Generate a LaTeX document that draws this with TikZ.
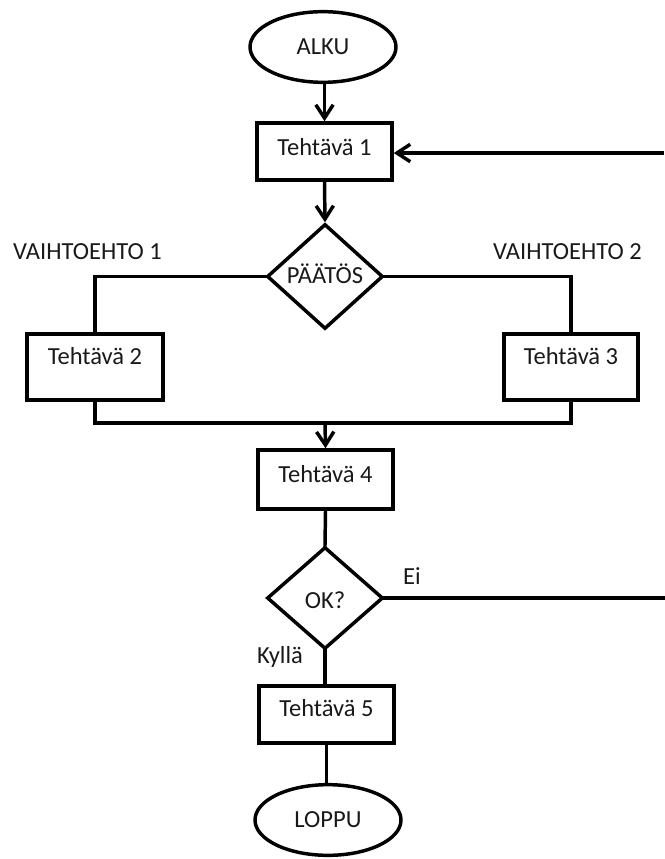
\documentclass[tikz,border=0pt]{standalone}
\usepackage{fontspec}
\setmainfont{Carlito}
\usetikzlibrary{shapes.geometric, arrows.meta}
\begin{document}
\begin{tikzpicture}[x=0.75pt, y=-0.75pt,
  txt/.style={font=\fontsize{18.4pt}{22pt}\selectfont, text=black!90, inner sep=0pt},
  ln/.style={line width=2.6pt, line join=miter, line cap=rect},
  arr/.style={line width=2.6pt, -{Straight Barb[length=10pt, width=13pt]}},
  box/.style={draw, line width=2.6pt, minimum width=101.25pt, inner sep=0pt},
  term/.style={ellipse, draw, line width=2.6pt, minimum width=109.5pt, minimum height=53pt, inner sep=0pt, txt},
  dec/.style={diamond, draw, line width=2.6pt, minimum width=87pt, inner sep=0pt}
]
\useasboundingbox (0,0) rectangle (664,859);

% start / end terminals
\node[term] (alku) at (323,47) {ALKU};
\node[term] (loppu) at (328,820) {LOPPU};

% task boxes
\node[box, minimum height=42.75pt] (t1) at (324.5,151.5) {};
\node[box, minimum width=102pt, minimum height=49.5pt] (t2) at (95,367) {};
\node[box, minimum width=100.5pt, minimum height=49.5pt] (t3) at (571,367) {};
\node[box, minimum height=44.25pt] (t4) at (325.5,479.5) {};
\node[box, minimum height=42.75pt] (t5) at (326.5,714.5) {};

\node[txt, anchor=base] (t1t) at ([yshift=-25.5pt]t1.north) {Tehtävä 1};
\node[txt, anchor=base] (t2t) at ([yshift=-24pt]t2.north) {Tehtävä 2};
\node[txt, anchor=base] (t3t) at ([yshift=-24pt]t3.north) {Tehtävä 3};
\node[txt, anchor=base] (t4t) at ([yshift=-25.5pt]t4.north) {Tehtävä 4};
\node[txt, anchor=base] (t5t) at ([yshift=-24pt]t5.north) {Tehtävä 5};

% decisions
\node[dec, minimum height=78.75pt] (p1) at (325,276.5) {};
\node[dec, minimum height=76.5pt] (ok) at (325,598) {};
\node[txt, anchor=base] (p1t) at ([yshift=-5pt]p1.center) {PÄÄTÖS};
\node[txt, anchor=base] (okt) at ([yshift=-7.5pt]ok.center) {OK?};

% branch labels
\node[txt] (v1) at (87.5,252) {VAIHTOEHTO 1};
\node[txt] (v2) at (567.5,252) {VAIHTOEHTO 2};
\node[txt] (ei) at (412,576) {Ei};
\node[txt] (kylla) at (280,657) {Kyllä};

% connectors
\coordinate (join) at (325,423);
\coordinate (backin) at (664,153);
\coordinate (backout) at (664,598);

\draw[arr] (alku.south -| t1.north) -- (t1.north);
\draw[arr] (t1.south) -- (p1.north);
\draw[ln] (p1.west) -| (t2.north);
\draw[ln] (p1.east) -| (t3.north);
\draw[ln] (t2.south) |- (join) -| (t3.south);
\draw[arr] (join) -- (t4.north);
\draw[ln] (t4.south) -- (ok.north);
\draw[ln] (ok.east) -- (ok.east -| backout);
\draw[arr] (backin) -- (t1.east |- backin);
\draw[ln] (ok.south) -- (ok.south |- t5.north);
\draw[ln] (t5.south) -- (t5.south |- loppu.north);
\end{tikzpicture}
\end{document}
